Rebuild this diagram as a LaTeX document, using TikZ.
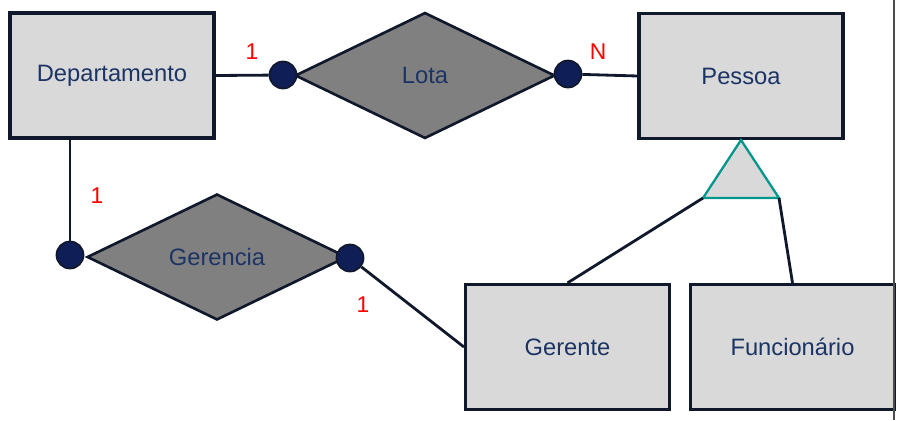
\documentclass[tikz,border=0pt]{standalone}
\usepackage{fontspec}
\setmainfont{Liberation Sans}
\usepackage{tikz}
\usetikzlibrary{shapes.geometric}
\definecolor{entfill}{RGB}{217,217,217}
\definecolor{relfill}{RGB}{128,128,128}
\definecolor{dotnavy}{RGB}{16,30,88}
\definecolor{edgeline}{RGB}{16,24,44}
\definecolor{labelblue}{RGB}{28,52,100}
\definecolor{isateal}{RGB}{0,150,140}

\begin{document}
\begin{tikzpicture}
	[%
	x=0.02cm, y=-0.02cm,%
	entity/.style  ={rectangle,	draw=edgeline,	fill=entfill,	line width=1.8pt,	inner sep=0pt,	minimum width=4.08cm,	minimum height=2.5cm,	text=labelblue,	font=\fontsize{13.5}{16}\selectfont},%
	relation/.style={diamond,	draw=edgeline,	fill=relfill,	line width=1.5pt,	inner sep=0pt,	minimum width=5.2cm,	minimum height=2.52cm,	text=labelblue,	font=\fontsize{13.5}{16}\selectfont},%
	dot/.style     ={circle,	draw=edgeline,	fill=dotnavy,	line width=1pt,	inner sep=0pt,	minimum size=0.54cm},%
	card/.style    ={text=red,	font=\fontsize{13}{15}\selectfont},%
	link/.style    ={draw=edgeline,	line width=1.6pt},%
	]

	\useasboundingbox (0,0) rectangle (897,420);

	% nodes
	% entities
	\foreach \n/\x/\y/\t in {dep/112/75.5/Departamento, pes/741/76/Pessoa, ger/567.5/347/Gerente, fun/792.5/347/Funcionário}
		\node (\n) at (\x,\y) [entity] {\t};
	% relationships
	\node (lota) at (425,75.5) [relation] {Lota};
	\node (gerencia) at (217,257) [relation] {Gerencia};
	% participation dots
	\foreach \n/\x/\y in {lotaL/283/75, lotaR/568/74, gerL/70/255, gerR/350/258}
		\node (\n) at (\x,\y) [dot] {};
	% specialisation triangle
	\coordinate (isaT) at (741,140);
	\coordinate (isaL) at (703,198);
	\coordinate (isaR) at (779,198);
	\filldraw [fill=entfill, draw=isateal, line width=1.3pt, line join=miter] (isaT) -- (isaL) -- (isaR) -- cycle;

	% cardinalities
	\foreach \x/\y/\t in {252/52/1, 598/52/N, 97/196/1, 363/305/1}
		\node at (\x,\y) [card] {\t};

	% interconnections
	\draw [link] (dep.east) -- (lotaL);
	\draw [link] (lotaR) -- (pes.west);
	\draw [link] (gerL) -- (gerL |- dep.south);
	\draw [link] (gerR) -- (ger.west);
	\draw [link] (ger.north) -- (isaL);
	\draw [link] (isaR) -- (fun.north);

	% window edge
	\draw [gray!60!black, line width=1pt] (894,0) -- (894,420);

\end{tikzpicture}
\end{document}
